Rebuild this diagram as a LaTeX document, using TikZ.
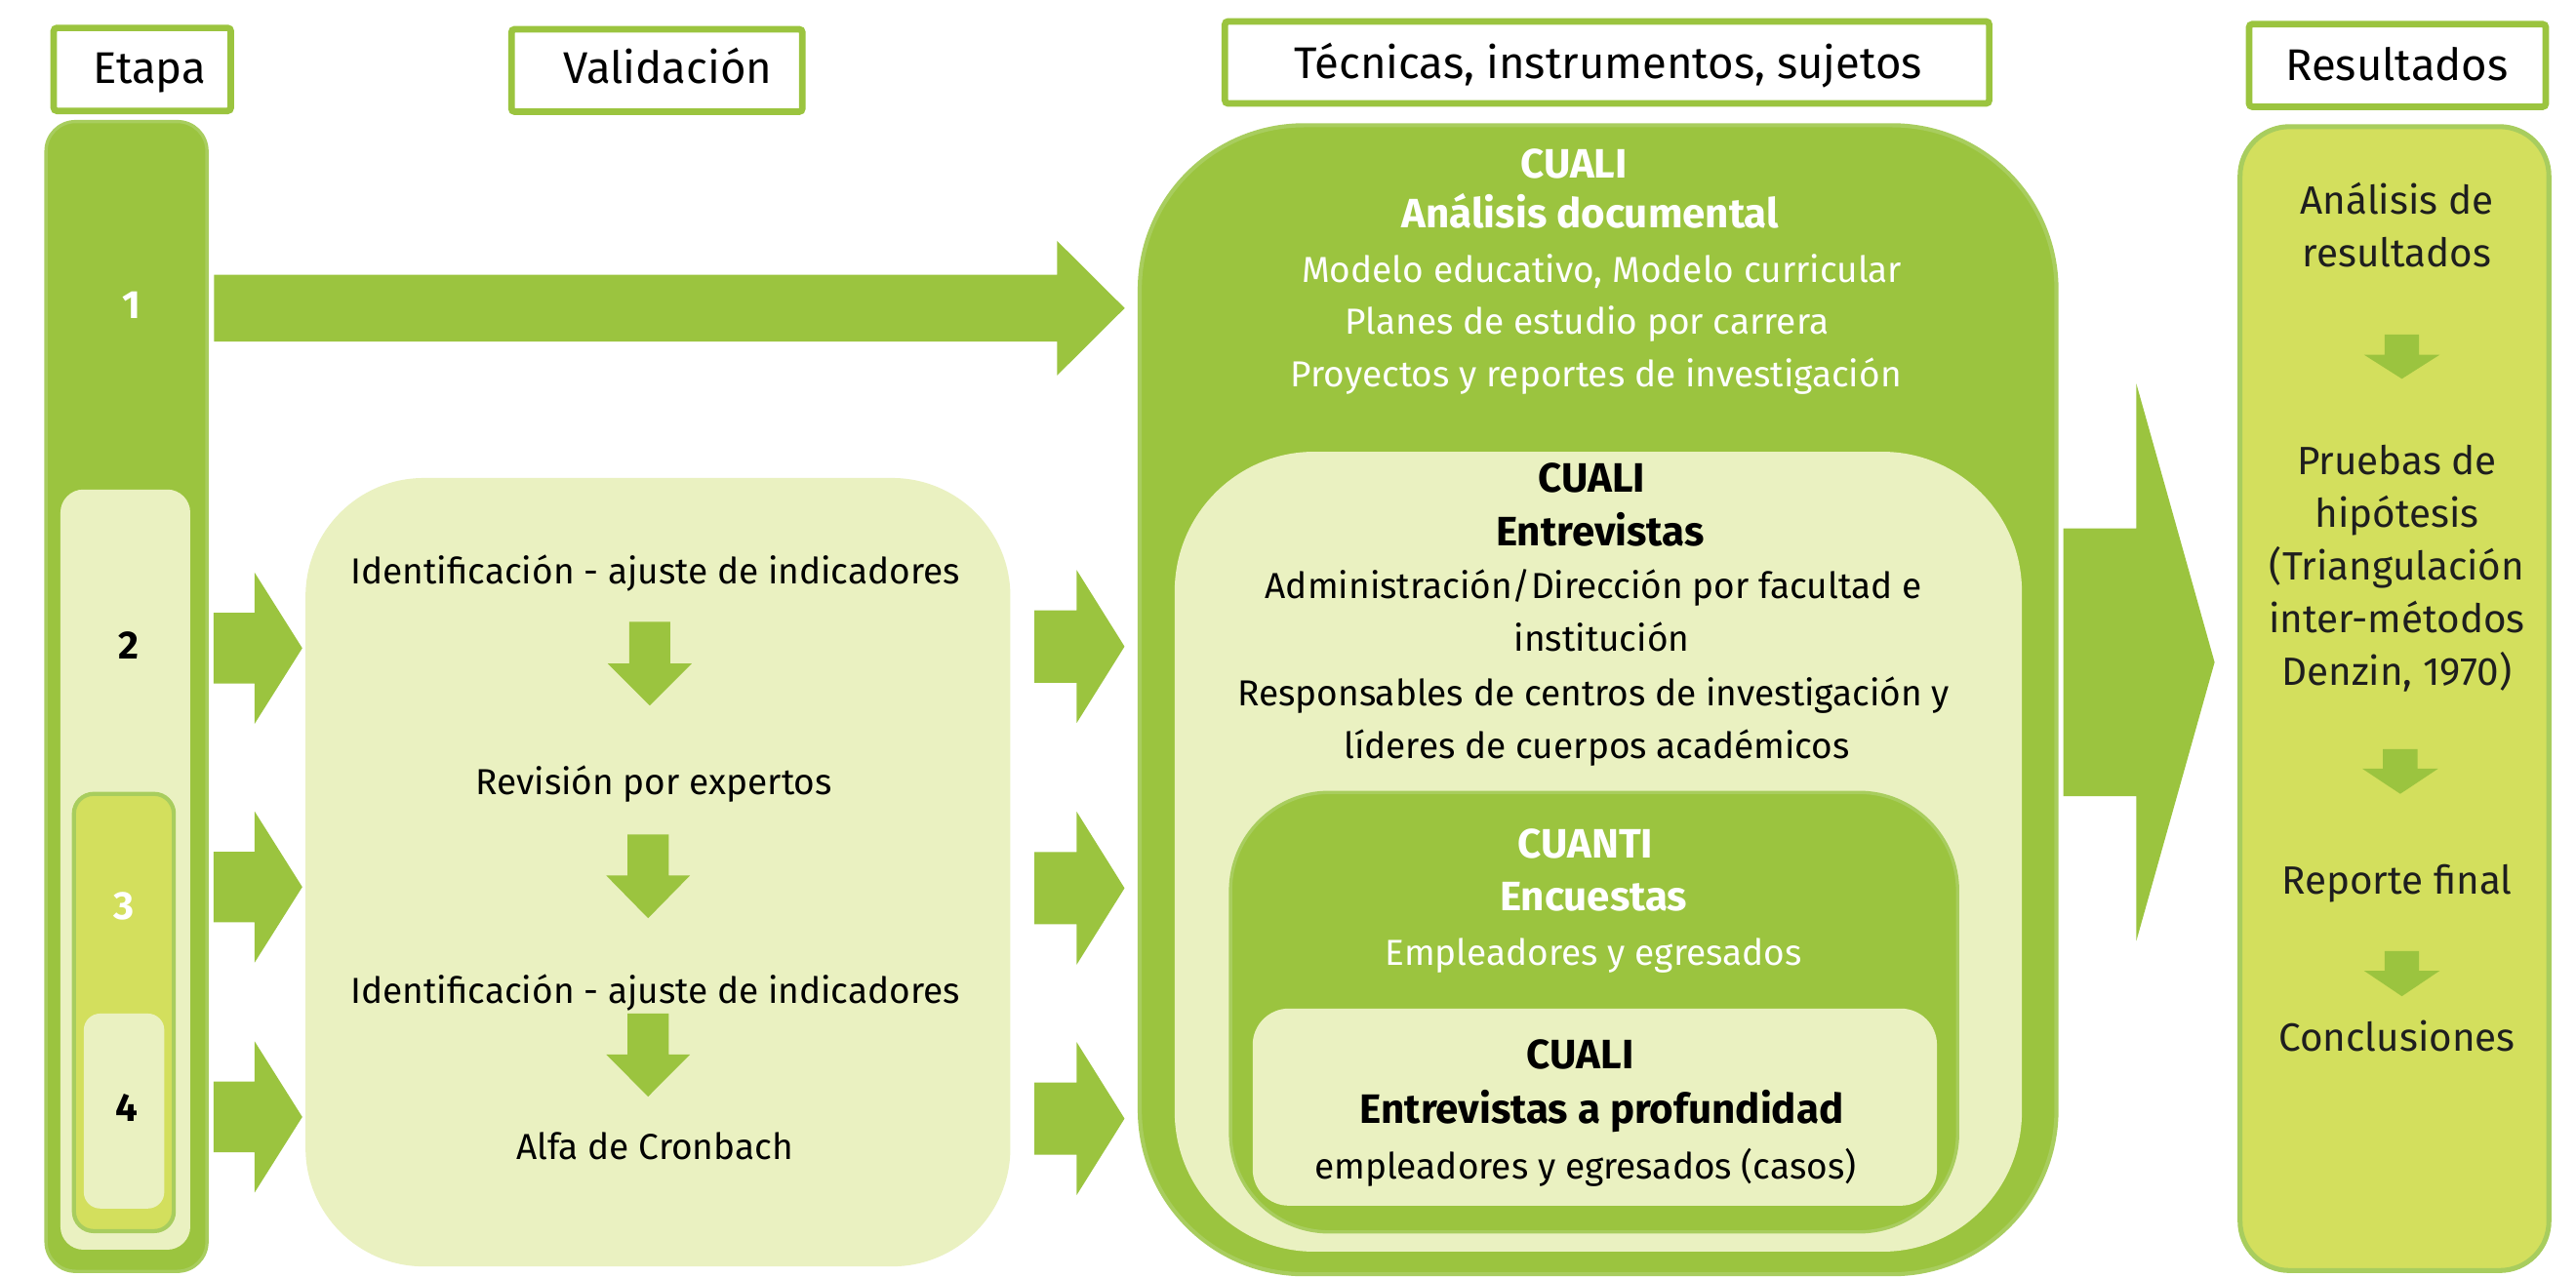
\documentclass[tikz,border=0pt]{standalone}
\usepackage{fontspec}
\setmainfont{Fira Sans}
\definecolor{grn}{HTML}{9BC43F}
\definecolor{grnedge}{HTML}{A8CD5E}
\definecolor{lite}{HTML}{EAF1C1}
\definecolor{ylw}{HTML}{D3DF5D}
\definecolor{txt}{HTML}{1E1E1E}
\newcommand\rblock[7]{%
  \fill[#7] (#1,{#4-#5}) -- (#2,{#4-#5}) -- (#2,{#4-#6}) -- (#3,#4) -- (#2,{#4+#6}) -- (#2,{#4+#5}) -- (#1,{#4+#5}) -- cycle;}
\newcommand\dblock[6]{%
  \fill[grn] ({#1-#5},#2) -- ({#1+#5},#2) -- ({#1+#5},#3) -- ({#1+#6},#3) -- (#1,#4) -- ({#1-#6},#3) -- ({#1-#5},#3) -- cycle;}
\begin{document}
\begin{tikzpicture}[x=1pt,y=-1pt,
  box/.style={inner sep=0pt, outer sep=0pt},
  hdr/.style={box, draw=grn, line width=4pt, fill=white, rounded corners=2pt},
  vt/.style={inner sep=0pt, text height=15.4pt, text depth=2.2pt, font=\fontsize{22}{27}\selectfont, text=black},
  rt/.style={inner sep=0pt, text height=16.8pt, text depth=2.4pt, font=\fontsize{24}{29}\selectfont, text=txt},
  tt/.style={inner sep=0pt, text height=15.4pt, text depth=2.2pt, font=\fontsize{22}{27}\selectfont},
  tb/.style={inner sep=0pt, text height=17.5pt, text depth=2.5pt, font=\fontsize{25}{30}\selectfont\bfseries},
  ht/.style={inner sep=0pt, text height=18.9pt, text depth=2.7pt, font=\fontsize{27}{33}\selectfont, text=black},
  num/.style={inner sep=0pt, text height=16.8pt, text depth=2.4pt, font=\fontsize{24}{29}\selectfont\bfseries}]
\useasboundingbox[fill=white] (0,0) rectangle (1568,777.5);

% headers
\node[hdr, minimum width=107.8pt, minimum height=50.5pt] (hEtapa) at (86.6,42.25) {};
\node[ht] (tEtapa) at (91,42.5) {Etapa};
\node[hdr, minimum width=177.1pt, minimum height=50.2pt] (hVal) at (399.85,42.9) {};
\node[ht] (tVal) at (406.6,42.5) {Validación};
\node[hdr, minimum width=465.2pt, minimum height=50pt] (hTec) at (978.2,38) {};
\node[ht] (tTec) at (979,39.5) {Técnicas, instrumentos, sujetos};
\node[hdr, minimum width=180.6pt, minimum height=50.3pt] (hRes) at (1459.3,39.85) {};
\node[ht] (tRes) at (1459,41) {Resultados};

% stage column
\node[box, draw=grnedge, line width=2pt, fill=grn, rounded corners=18pt, minimum width=98pt, minimum height=700pt] (col) at (77,424) {};
\node[box, fill=lite, rounded corners=14pt, minimum width=79pt, minimum height=462.8pt] (st2) at (76.3,529.4) {};
\node[box, draw=grnedge, line width=2.5pt, fill=ylw, rounded corners=12pt, minimum width=60.8pt, minimum height=266.2pt] (st3) at (75.4,616.4) {};
\node[box, fill=lite, rounded corners=10pt, minimum width=49pt, minimum height=118.7pt] (st4) at (75.5,676.4) {};
\node[num, text=white] (n1) at (80,187) {1};
\node[num, text=black] (n2) at (78.5,394) {2};
\node[num, text=white] (n3) at (75.6,552.6) {3};
\node[num, text=black] (n4) at (77,675.6) {4};

% arrows from the stage column
\rblock{130.3}{643.4}{684.6}{187.6}{20.3}{41}{grn}
\rblock{130}{155}{184}{394.6}{21.5}{46}{grn}
\rblock{130}{155}{184}{540}{21.5}{46}{grn}
\rblock{130}{155}{184}{680}{21.5}{46}{grn}

% validation
\node[box, fill=lite, rounded corners=72pt, minimum width=429pt, minimum height=480pt] (val) at (400.5,531) {};
\node[vt] (v1) at (399,349) {Identificación - ajuste de indicadores};
\node[vt] (v2) at (398,477) {Revisión por expertos};
\node[vt] (v3) at (399,604) {Identificación - ajuste de indicadores};
\node[vt] (v4) at (398.5,699) {Alfa de Cronbach};
\dblock{395.5}{378.6}{404}{429.5}{12.5}{25.5}
\dblock{394.5}{508}{533}{559}{12.5}{25.5}
\dblock{394.5}{617}{642}{667.6}{12.5}{25.5}

% arrows validation -> techniques
\rblock{629.6}{655.4}{684.5}{393.6}{22}{46.5}{grn}
\rblock{629.6}{655.4}{684.5}{540.7}{22}{46.5}{grn}
\rblock{629.6}{655.4}{684.5}{681}{22}{46.5}{grn}

% techniques
\node[box, draw=grnedge, line width=2.5pt, fill=grn, rounded corners=100pt, minimum width=558pt, minimum height=699.5pt] (tec) at (972.75,426) {};
\node[tb, text=white] (a1) at (958,100.6) {CUALI};
\node[tb, text=white] (a2) at (968,131) {Análisis documental};
\node[tt, text=white] (a3) at (975,165.6) {Modelo educativo, Modelo curricular};
\node[tt, text=white] (a4) at (966,197) {Planes de estudio por carrera};
\node[tt, text=white] (a5) at (971.5,228.8) {Proyectos y reportes de investigación};

\node[box, fill=lite, rounded corners=85pt, minimum width=515.7pt, minimum height=487pt] (ent) at (972.85,518.5) {};
\node[tb, text=black] (b1) at (969,292) {CUALI};
\node[tb, text=black] (b2) at (974,325) {Entrevistas};
\node[tt, text=black] (b3) at (970,358) {Administración/Dirección por facultad e};
\node[tt, text=black] (b4) at (975,390) {institución};
\node[tt, text=black] (b5) at (970,423) {Responsables de centros de investigación y};
\node[tt, text=black] (b6) at (972,455) {líderes de cuerpos académicos};

\node[box, draw=grnedge, line width=2pt, fill=grn, rounded corners=60pt, minimum width=442.6pt, minimum height=267.6pt] (cuanti) at (970.3,616.2) {};
\node[tb, text=white] (c1) at (965,514.6) {CUANTI};
\node[tb, text=white] (c2) at (970,546.8) {Encuestas};
\node[tt, text=white] (c3) at (970,581) {Empleadores y egresados};

\node[box, fill=lite, rounded corners=22pt, minimum width=416.5pt, minimum height=120pt] (prof) at (970.75,674) {};
\node[tb, text=black] (d1) at (962,643) {CUALI};
\node[tb, text=black] (d2) at (975,676.6) {Entrevistas a profundidad};
\node[tt, text=black] (d3) at (965,711) {empleadores y egresados (casos)};

% big arrow to results
\rblock{1256}{1300.4}{1348}{403.2}{81.5}{169.5}{grn}

% results
\node[box, draw=grnedge, line width=3pt, fill=ylw, rounded corners=30pt, minimum width=188pt, minimum height=696.4pt] (res) at (1457.5,425.3) {};
\node[rt] (r1) at (1459,123) {Análisis de};
\node[rt] (r2) at (1459,155) {resultados};
\dblock{1462}{203.6}{216}{230.6}{10.5}{23}
\node[rt] (r3) at (1459,282) {Pruebas de};
\node[rt] (r4) at (1459,314) {hipótesis};
\node[rt] (r5) at (1459,346) {(Triangulación};
\node[rt] (r6) at (1459,378) {inter-métodos};
\node[rt] (r7) at (1459,410) {Denzin, 1970)};
\dblock{1461}{456}{468}{483.3}{10.5}{23}
\node[rt] (r8) at (1459,537) {Reporte final};
\dblock{1462}{579}{591}{606.5}{10.5}{23}
\node[rt] (r9) at (1459,633) {Conclusiones};
\end{tikzpicture}
\end{document}
